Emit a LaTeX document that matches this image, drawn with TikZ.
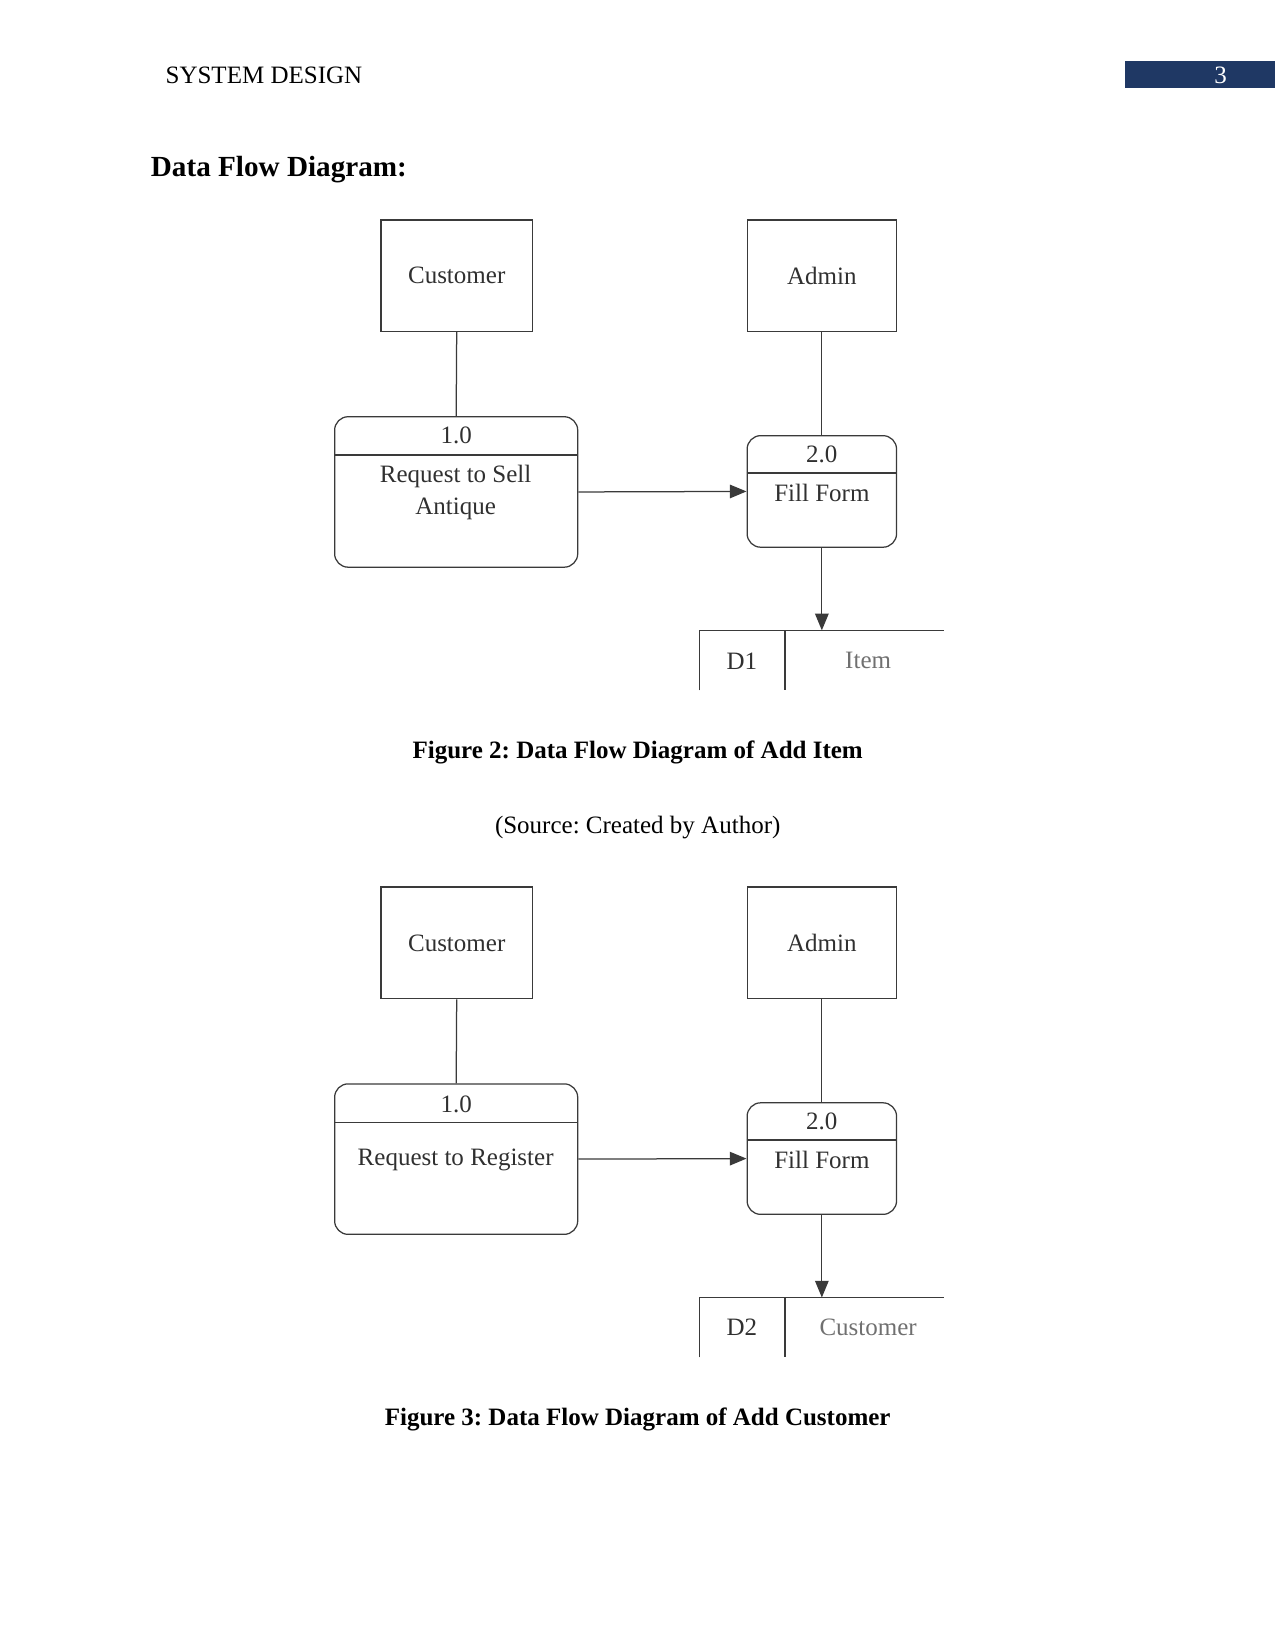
\documentclass[tikz,border=0pt]{standalone}
\usepackage{fontspec}
\setmainfont{Liberation Serif}
\usetikzlibrary{arrows.meta,calc}
\newcommand\upx{0.505pt}
\definecolor{hdrblue}{HTML}{1F3864}
\definecolor{lncol}{HTML}{3A3A3A}
\definecolor{txcol}{HTML}{303030}
\definecolor{stcol}{HTML}{707070}
\frenchspacing
\begin{document}
\begin{tikzpicture}[x=0.505pt,y=-0.505pt,
  every node/.style={font=\fontsize{12}{14.5}\selectfont, inner sep=0pt},
  ent/.style={draw=lncol, line width=0.6pt, text=txcol},
  proc/.style={draw=lncol, line width=0.6pt, rounded corners=6.5pt},
  ptext/.style={text=txcol, align=center},
  conn/.style={draw=lncol, line width=0.6pt},
  flow/.style={conn, -{Triangle[length=8pt,width=6.5pt]}},
  stxt/.style={text=stcol},
  figcap/.style={font=\fontsize{12}{14.5}\selectfont\bfseries}]
\useasboundingbox (0,0) rectangle (1212,1568);
% header
\node[anchor=west] (hdr) at (157,72) {SYSTEM DESIGN};
\fill[hdrblue] (1069,58) rectangle (1212,84);
\node[text=white] (pgno) at (1160,72) {3};
\node[anchor=west, font=\fontsize{14}{17}\selectfont\bfseries] (title) at (143,161) {Data Flow Diagram:};

% ---------- Diagram 1 ----------
\node[ent, minimum width=144*\upx, minimum height=106*\upx] (cust1) at (434,262) {Customer};
\node[ent, minimum width=142*\upx, minimum height=106*\upx] (adm1) at (781,262) {Admin};
\node[proc, minimum width=231*\upx, minimum height=143*\upx] (p1) at (433.5,467.5) {};
\draw[conn] ($(p1.north west)+(0,37)$) -- ($(p1.north east)+(0,37)$);
\node[ptext] (p1n) at (433.5,414) {1.0};
\node[ptext, font=\fontsize{12}{15.2}\selectfont] (p1t) at (433,468) {Request to Sell\\Antique};
\node[proc, minimum width=142*\upx, minimum height=106*\upx] (p2) at (781,467) {};
\draw[conn] ($(p2.north west)+(0,36)$) -- ($(p2.north east)+(0,36)$);
\node[ptext] (p2n) at (781,432) {2.0};
\node[ptext] (p2t) at (781,468) {Fill Form};
\coordinate (ds1top) at (781,599);
\coordinate (ds1a) at (665,656);
\coordinate (ds1b) at (665,599);
\coordinate (ds1c) at (897,599);
\coordinate (ds1d) at (746,599);
\coordinate (ds1e) at (746,656);
\draw[conn] (ds1a) -- (ds1b) -- (ds1c);
\draw[conn] (ds1d) -- (ds1e);
\node[ptext] (ds1id) at (705,628) {D1};
\node[stxt] (ds1nm) at (825,628) {Item};
\draw[conn] (cust1.south) -- (p1.north);
\draw[conn] (adm1.south) -- (p2.north);
\draw[flow] (p1.east) -- (p2.west);
\draw[flow] (p2.south) -- (ds1top);
\node[figcap] (cap1) at (606,715) {Figure 2: Data Flow Diagram of Add Item};
\node (src1) at (606,786) {(Source: Created by Author)};

% ---------- Diagram 2 ----------
\node[ent, minimum width=144*\upx, minimum height=106*\upx] (cust2) at (434,896) {Customer};
\node[ent, minimum width=142*\upx, minimum height=106*\upx] (adm2) at (781,896) {Admin};
\node[proc, minimum width=231*\upx, minimum height=143*\upx] (q1) at (433.5,1101.5) {};
\draw[conn] ($(q1.north west)+(0,37)$) -- ($(q1.north east)+(0,37)$);
\node[ptext] (q1n) at (433.5,1049) {1.0};
\node[ptext] (q1t) at (433,1102) {Request to Register};
\node[proc, minimum width=142*\upx, minimum height=106*\upx] (q2) at (781,1101) {};
\draw[conn] ($(q2.north west)+(0,36)$) -- ($(q2.north east)+(0,36)$);
\node[ptext] (q2n) at (781,1066) {2.0};
\node[ptext] (q2t) at (781,1102) {Fill Form};
\coordinate (ds2top) at (781,1233);
\coordinate (ds2a) at (665,1290);
\coordinate (ds2b) at (665,1233);
\coordinate (ds2c) at (897,1233);
\coordinate (ds2d) at (746,1233);
\coordinate (ds2e) at (746,1290);
\draw[conn] (ds2a) -- (ds2b) -- (ds2c);
\draw[conn] (ds2d) -- (ds2e);
\node[ptext] (ds2id) at (705,1261) {D2};
\node[stxt] (ds2nm) at (825,1261) {Customer};
\draw[conn] (cust2.south) -- (q1.north);
\draw[conn] (adm2.south) -- (q2.north);
\draw[flow] (q1.east) -- (q2.west);
\draw[flow] (q2.south) -- (ds2top);
\node[figcap] (cap2) at (606,1349) {Figure 3: Data Flow Diagram of Add Customer};
\end{tikzpicture}
\end{document}
